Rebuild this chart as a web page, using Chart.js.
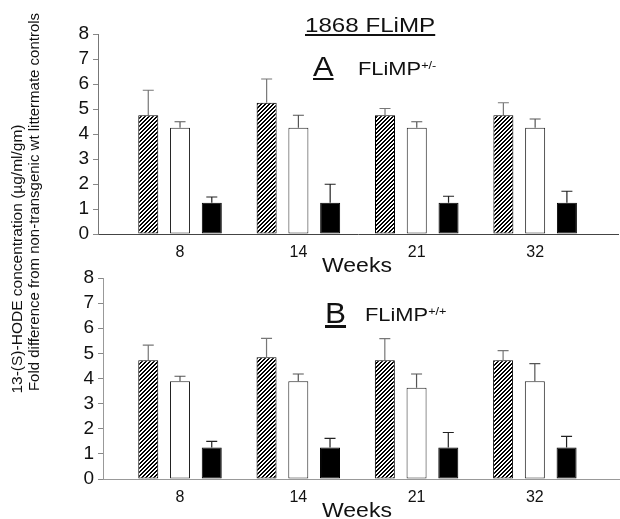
<!DOCTYPE html>
<html>
<head>
<meta charset="utf-8">
<script src="https://cdn.jsdelivr.net/npm/chart.js@4"></script>
<style>
  body { margin: 0; background: #fff; }
  #wrap { position: relative; width: 620px; height: 519px; background: #fff; overflow: hidden;
          font-family: "Liberation Sans", Arial, sans-serif; color: #111; }
  canvas { position: absolute; left: 0; }
  .t { position: absolute; white-space: nowrap; transform-origin: 0 0; line-height: 1; }
  .t sup { font-size: 0.58em; vertical-align: 0.55em; }
  .ytitle { position: absolute; white-space: nowrap; font-size: 15px; line-height: 1;
            transform: translate(-50%, -50%) rotate(-90deg); }
</style>
</head>
<body>
<div id="wrap">
  <canvas id="chartA" width="620" height="262" style="top:0"></canvas>
  <canvas id="chartB" width="620" height="257" style="top:262px"></canvas>

  <div class="t" style="left:305px;top:14px;font-size:21px;transform:scaleX(1.15)"><u>1868 FLiMP</u></div>
  <div class="t" style="left:313px;top:53px;font-size:28px;transform:scaleX(1.1)"><u>A</u></div>
  <div class="t" style="left:358px;top:59px;font-size:19px;transform:scaleX(1.15)">FLiMP<sup>+/-</sup></div>
  <div class="t" style="left:322px;top:255px;font-size:20px;transform:scaleX(1.15)">Weeks</div>

  <div class="t" style="left:325px;top:298px;font-size:30px;transform:scaleX(1.05)"><u>B</u></div>
  <div class="t" style="left:365px;top:305px;font-size:19px;transform:scaleX(1.15)">FLiMP<sup>+/+</sup></div>
  <div class="t" style="left:322px;top:500px;font-size:20px;transform:scaleX(1.15)">Weeks</div>

  <div class="ytitle" style="left:17px;top:259px;font-size:15.5px">13-(S)-HODE concentration (µg/ml/gm)</div>
  <div class="ytitle" style="left:33px;top:202px">Fold difference from non-transgenic wt littermate controls</div>
</div>
<script>
const weeks = ['8', '14', '21', '32'];
const yTicks = [0, 1, 2, 3, 4, 5, 6, 7, 8];

// panel A: FLiMP +/-
const aHatched = [4.75, 5.25, 4.75, 4.75];
const aHatchedErr = [1.0, 0.95, 0.27, 0.5];
const aWhite = [4.25, 4.25, 4.25, 4.25];
const aWhiteErr = [0.24, 0.5, 0.24, 0.35];
const aBlack = [1.25, 1.25, 1.25, 1.25];
const aBlackErr = [0.23, 0.74, 0.26, 0.46];

// panel B: FLiMP +/+
const bHatched = [4.73, 4.85, 4.73, 4.73];
const bHatchedErr = [0.6, 0.75, 0.86, 0.38];
const bWhite = [3.89, 3.89, 3.63, 3.89];
const bWhiteErr = [0.2, 0.29, 0.55, 0.7];
const bBlack = [1.25, 1.25, 1.25, 1.25];
const bBlackErr = [0.25, 0.37, 0.6, 0.45];

const FONT = '"Liberation Sans", Arial, sans-serif';

// crisp "////" stripes, 4px period
function hatch() {
  const c = document.createElement('canvas');
  c.width = 8; c.height = 8;
  const g = c.getContext('2d');
  g.fillStyle = '#fff';
  g.fillRect(0, 0, 8, 8);
  g.fillStyle = '#000';
  for (let x = 0; x < 8; x++) {
    for (let y = 0; y < 8; y++) {
      if ((x + y) % 4 < 2) g.fillRect(x, y, 1, 1);
    }
  }
  return g.createPattern(c, 'repeat');
}

// upward-only error bars with a cap
const errorBars = {
  id: 'errorBars',
  afterDatasetsDraw(chart, args, opts) {
    const ctx = chart.ctx;
    const y = chart.scales.y;
    chart.data.datasets.forEach((ds, i) => {
      const meta = chart.getDatasetMeta(i);
      meta.data.forEach((el, j) => {
        const top = y.getPixelForValue(ds.data[j].y + opts.errs[i][j]);
        ctx.save();
        ctx.strokeStyle = opts.colors[i];
        ctx.lineWidth = 1.2;
        ctx.beginPath();
        ctx.moveTo(el.x, el.y);
        ctx.lineTo(el.x, top);
        ctx.moveTo(el.x - 5.5, top);
        ctx.lineTo(el.x + 5.5, top);
        ctx.stroke();
        ctx.restore();
      });
    });
  }
};

function makeChart(id, series, errs, opt) {
  const pts = arr => arr.map((v, i) => ({ x: i, y: v }));
  return new Chart(document.getElementById(id), {
    type: 'bar',
    data: {
      datasets: [
        { data: pts(series[0]), backgroundColor: hatch(), borderColor: '#000', borderWidth: 1, borderSkipped: false },
        { data: pts(series[1]), backgroundColor: '#fff', borderColor: '#222', borderWidth: 1, borderSkipped: false },
        { data: pts(series[2]), backgroundColor: '#000', borderColor: '#000', borderWidth: 1, borderSkipped: false }
      ]
    },
    options: {
      responsive: false,
      animation: false,
      devicePixelRatio: 1,
      categoryPercentage: 0.805,
      barPercentage: 0.63,
      layout: { padding: { left: 0, right: opt.right, top: opt.top, bottom: 0 } },
      plugins: {
        legend: { display: false },
        tooltip: { enabled: false },
        errorBars: { errs: errs, colors: ['#777', '#555', '#222'] }
      },
      scales: {
        x: {
          type: 'linear',
          offset: false,
          min: opt.xmin,
          max: opt.xmax,
          afterBuildTicks: s => { s.ticks = weeks.map((w, i) => ({ value: i })); },
          afterFit: s => { s.height = opt.xh; },
          ticks: {
            callback: v => weeks[v],
            autoSkip: false, maxRotation: 0, padding: 9,
            color: '#111', font: { family: FONT, size: 16 }
          },
          grid: { display: false, drawTicks: false, tickLength: 0 },
          border: { display: true, color: opt.xaxis, width: 1 }
        },
        y: {
          min: 0, max: 8,
          afterBuildTicks: s => { s.ticks = yTicks.map(v => ({ value: v })); },
          afterFit: s => { s.width = opt.yw; },
          ticks: { autoSkip: false, padding: 4, color: '#111', font: { family: FONT, size: 19 } },
          grid: { drawOnChartArea: false, drawTicks: true, tickLength: 5, color: '#888' },
          border: { display: true, color: opt.yaxis, width: 1 }
        }
      }
    },
    plugins: [errorBars]
  });
}

makeChart('chartA', [aHatched, aWhite, aBlack], [aHatchedErr, aWhiteErr, aBlackErr],
  { top: 34, right: 2, xh: 28, yw: 98, xmin: -0.693, xmax: 3.70, xaxis: '#444', yaxis: '#777' });
makeChart('chartB', [bHatched, bWhite, bBlack], [bHatchedErr, bWhiteErr, bBlackErr],
  { top: 16, right: 0, xh: 40, yw: 103, xmin: -0.651, xmax: 3.72, xaxis: '#999', yaxis: '#999' });
</script>
</body>
</html>
